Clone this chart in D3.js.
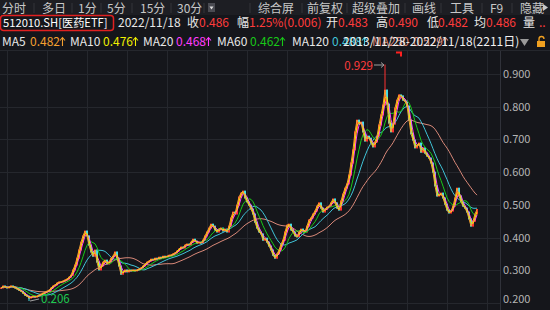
<!DOCTYPE html>
<html>
<head>
<meta charset="utf-8">
<script src="https://cdn.jsdelivr.net/npm/d3@7"></script>
<style>
body { margin: 0; background: #15161b; }
svg { display: block; font-family: "Noto Sans CJK SC", "Noto Sans", sans-serif; }
</style>
</head>
<body>
<svg id="chart" width="550" height="310"></svg>
<script>
// closing prices (about one value per 9 trading days)
var closes = [
  0.246,0.252,0.249,0.246,0.249,0.252,0.249,0.246,0.243,0.239,
  0.236,0.230,0.224,0.221,0.215,0.218,0.221,0.218,0.221,0.224,
  0.227,0.230,0.233,0.236,0.239,0.246,0.252,0.255,0.261,0.264,
  0.264,0.267,0.270,0.273,0.279,0.285,0.301,0.316,0.337,0.362,
  0.386,0.405,0.420,0.405,0.377,0.356,0.343,0.362,0.325,0.301,
  0.313,0.325,0.331,0.319,0.325,0.337,0.343,0.356,0.337,0.313,
  0.288,0.295,0.301,0.295,0.301,0.298,0.301,0.298,0.301,0.304,
  0.307,0.313,0.319,0.325,0.328,0.334,0.331,0.337,0.334,0.340,
  0.337,0.343,0.340,0.343,0.346,0.346,0.350,0.353,0.359,0.365,
  0.371,0.368,0.377,0.380,0.377,0.386,0.395,0.389,0.383,0.386,
  0.383,0.392,0.405,0.417,0.429,0.441,0.435,0.423,0.417,0.426,
  0.429,0.420,0.426,0.417,0.435,0.460,0.478,0.472,0.499,0.524,
  0.536,0.542,0.521,0.509,0.499,0.487,0.472,0.447,0.429,0.417,
  0.411,0.392,0.398,0.386,0.374,0.362,0.346,0.337,0.350,0.362,
  0.380,0.392,0.417,0.438,0.441,0.423,0.417,0.405,0.402,0.417,
  0.426,0.420,0.417,0.435,0.454,0.460,0.472,0.481,0.496,0.506,
  0.490,0.478,0.487,0.493,0.496,0.506,0.518,0.506,0.490,0.484,
  0.512,0.533,0.551,0.564,0.591,0.628,0.668,0.723,0.759,0.747,
  0.753,0.723,0.695,0.710,0.704,0.689,0.677,0.692,0.710,0.744,
  0.775,0.805,0.851,0.808,0.750,0.723,0.747,0.796,0.820,0.836,
  0.833,0.820,0.817,0.802,0.759,0.717,0.698,0.674,0.683,0.689,
  0.661,0.674,0.658,0.649,0.643,0.628,0.600,0.558,0.527,0.530,
  0.536,0.521,0.502,0.484,0.475,0.481,0.496,0.521,0.551,0.527,
  0.509,0.496,0.490,0.478,0.457,0.435,0.450,0.472,0.486
];
var totalDays = 2211;
// extreme wicks (index in closes, price)
var wickIdx = [192, 14];
var wickVal = [0.929, 0.206];

var maNames  = ["MA5", "MA10", "MA20", "MA60", "MA120", "MA250"];
var maDays   = [5, 10, 20, 60, 120, 250];
var maLast   = ["0.482", "0.476", "0.468", "0.462", "0.488", "0.529"];
var maColors = ["#f5a030", "#f0f000", "#ff3cff", "#18c818", "#40c4d8", "#d88878"];

var tabsLeft  = ["分时", "多日", "1分", "5分", "15分", "30分"];
var tabsRight = ["综合屏", "前复权", "超级叠加", "画线", "工具", "F9", "隐藏"];

var code = "512010.SH[医药ETF]";
var date = "2022/11/18";
var quoteNames  = ["收", "幅", "开", "高", "低", "均"];
var quoteValues = ["0.486", "1.25%(0.006)", "0.483", "0.490", "0.482", "0.486"];
var range = "2013/11/28-2022/11/18(2211日)";

var yTicks = [0.2, 0.3, 0.4, 0.5, 0.6, 0.7, 0.8, 0.9];

var W = 550, H = 310, plotR = 500, plotTop = 50;
var svg = d3.select("#chart");
var up = "#ff3232", down = "#48dce4";

svg.append("rect").attr("width", W).attr("height", H).attr("fill", "#15161b");

// top tab bar
svg.append("rect").attr("width", W).attr("height", 15).attr("fill", "#1d1e23");
var tabLX = [2, 42, 78, 107, 140, 177];
var tabRX = [258, 307, 352, 412, 450, 490, 520];
svg.append("g").selectAll("text").data(tabsLeft.concat(tabsRight)).enter().append("text")
  .attr("x", function (d, i) { return i < 6 ? tabLX[i] : tabRX[i - 6]; })
  .attr("y", 12.5)
  .attr("font-size", "12px")
  .attr("fill", "#c8c8c8")
  .text(function (d) { return d; });
var seps = [34, 72, 101, 132, 171, 204, 250, 302, 347, 405, 441, 482, 512];
svg.append("g").selectAll("line").data(seps).enter().append("line")
  .attr("x1", function (d) { return d; }).attr("x2", function (d) { return d; })
  .attr("y1", 3).attr("y2", 13)
  .attr("stroke", "#34353b");
// dropdown box
svg.append("rect").attr("x", 208).attr("y", 3).attr("width", 7).attr("height", 9)
  .attr("fill", "#4a4b52");
svg.append("path").attr("d", "M209.5,6.5 h4 l-2,3 z").attr("fill", "#e0e0e0");
svg.append("path").attr("d", "M543,4 l5,3.5 l-5,3.5 z").attr("fill", "#c8c8c8");

// second row: code + quote
svg.append("rect").attr("x", 0.5).attr("y", 15.5).attr("width", 113).attr("height", 15)
  .attr("rx", 3).attr("fill", "none").attr("stroke", "#e02020").attr("stroke-width", 1.5);
svg.append("text").attr("x", 3).attr("y", 27).attr("font-size", "11.2px").attr("fill", "#ffffff").text(code);
svg.append("text").attr("x", 118).attr("y", 27).attr("font-size", "12px").attr("fill", "#e8e8e8").text(date);
var qNameX = [187, 237, 326, 376, 427, 474];
var qValX  = [199, 249, 338, 388, 438, 486];
qNameX.forEach(function (x, i) {
  svg.append("text").attr("x", x).attr("y", 27).attr("font-size", "12px").attr("fill", "#e8e8e8").text(quoteNames[i]);
  svg.append("text").attr("x", qValX[i]).attr("y", 27).attr("font-size", "12px").attr("fill", "#ff3c3c").text(quoteValues[i]);
});
svg.append("text").attr("x", 523).attr("y", 27).attr("font-size", "12px").attr("fill", "#e8e8e8").text("量");
svg.append("text").attr("x", 539).attr("y", 27).attr("font-size", "12px").attr("fill", "#ff3c3c").text("..");

// MA legend row, value followed by a thin up arrow
var maNameX = [2, 70, 143, 217, 292, 372];
var maValX  = [30, 103, 176, 250, 332, 413];
maNames.forEach(function (n, i) {
  svg.append("text").attr("x", maNameX[i]).attr("y", 46).attr("font-size", "12px")
    .attr("fill", i < 5 ? "#e8e8e8" : maColors[i]).text(n);
  var t = svg.append("text").attr("x", maValX[i]).attr("y", 46).attr("font-size", "12px")
    .attr("fill", maColors[i]).text(maLast[i]);
  var ax = maValX[i] + t.node().getComputedTextLength() + 2.5;
  svg.append("path").attr("d", "M" + ax + ",46 V38 M" + (ax - 2.5) + ",40.5 L" + ax + ",37.5 L" + (ax + 2.5) + ",40.5")
    .attr("fill", "none").attr("stroke", maColors[i]).attr("stroke-width", 1.1);
});
svg.append("text").attr("x", 343).attr("y", 46).attr("font-size", "12px").attr("fill", "#f0f0f0").text(range);
svg.append("path").attr("d", "M520,39 h9 l-4.5,7 z").attr("fill", "#9a9a9a");
svg.append("rect").attr("x", 537).attr("y", 41).attr("width", 8).attr("height", 6).attr("fill", "#f0a020");
svg.append("path").attr("d", "M539,41 v-2 a2.5,2.5 0 0 1 5,0").attr("fill", "none").attr("stroke", "#f0a020").attr("stroke-width", 1.3);

// scales
var x = d3.scaleLinear().domain([0, closes.length - 1]).range([1, 477]);
var y = d3.scaleLinear().domain([0.2, 0.9]).range([303, 74]);

// grid
var grid = svg.append("g");
grid.selectAll(".h").data(yTicks).enter().append("line")
  .attr("x1", 0).attr("x2", plotR)
  .attr("y1", function (d) { return Math.round(y(d)) + 0.5; })
  .attr("y2", function (d) { return Math.round(y(d)) + 0.5; })
  .attr("stroke", "#25272d");
grid.selectAll(".v").data(d3.range(3, 250, 20)).enter().append("line")
  .attr("x1", function (d) { return Math.round(x(d)) + 0.5; })
  .attr("x2", function (d) { return Math.round(x(d)) + 0.5; })
  .attr("y1", plotTop).attr("y2", H)
  .attr("stroke", "#25272d");
svg.append("line").attr("x1", plotR + 0.5).attr("x2", plotR + 0.5).attr("y1", plotTop).attr("y2", H)
  .attr("stroke", "#30323a");
svg.append("line").attr("x1", 0).attr("x2", W).attr("y1", plotTop + 0.5).attr("y2", plotTop + 0.5)
  .attr("stroke", "#25272d");

// y axis labels
svg.append("g").selectAll("text").data(yTicks).enter().append("text")
  .attr("x", 503)
  .attr("y", function (d) { return Math.min(y(d), 299); })
  .attr("dy", "0.36em")
  .attr("font-size", "11px")
  .attr("fill", "#b4b4b4")
  .text(function (d) { return d3.format(".3f")(d); });

// candles
var candles = closes.map(function (c, i) {
  var o = i ? closes[i - 1] : c;
  var hi = Math.max(o, c), lo = Math.min(o, c);
  var k = wickIdx.indexOf(i);
  if (k >= 0) { hi = Math.max(hi, wickVal[k]); lo = Math.min(lo, wickVal[k]); }
  return { i: i, o: o, c: c, h: hi, l: lo };
});
var cg = svg.append("g");
cg.selectAll("line").data(candles).enter().append("line")
  .attr("x1", function (d) { return x(d.i); }).attr("x2", function (d) { return x(d.i); })
  .attr("y1", function (d) { return y(d.h); }).attr("y2", function (d) { return y(d.l); })
  .attr("stroke", function (d) { return d.c >= d.o ? up : down; })
  .attr("stroke-width", 1);
cg.selectAll("rect").data(candles).enter().append("rect")
  .attr("x", function (d) { return x(d.i) - 1; })
  .attr("width", 2)
  .attr("y", function (d) { return y(Math.max(d.o, d.c)) - 0.5; })
  .attr("height", function (d) { return Math.max(1.5, Math.abs(y(d.o) - y(d.c)) + 1); })
  .attr("fill", function (d) { return d.c >= d.o ? up : down; });

// moving averages (window converted from trading days to points)
var daysPerPoint = totalDays / closes.length;
var line = d3.line().x(function (d, i) { return x(i); }).y(function (d) { return y(d); });
maDays.slice().reverse().forEach(function (days, r) {
  var k = maDays.length - 1 - r;
  var w = Math.ceil(days / daysPerPoint);
  var ma = closes.map(function (c, i) {
    return d3.mean(closes.slice(Math.max(0, i - w + 1), i + 1));
  });
  svg.append("path").attr("d", line(ma))
    .attr("fill", "none").attr("stroke", maColors[k]).attr("stroke-width", 1);
});

// high / low markers
var hiI = wickIdx[0], loI = wickIdx[1];
svg.append("text").attr("x", x(hiI) - 12).attr("y", y(wickVal[0]) + 1).attr("dy", "0.35em")
  .attr("text-anchor", "end").attr("font-size", "11.5px").attr("fill", "#ff3c3c")
  .text(d3.format(".3f")(wickVal[0]));
svg.append("line").attr("x1", x(hiI) - 11).attr("x2", x(hiI) - 1)
  .attr("y1", y(wickVal[0]) + 0.5).attr("y2", y(wickVal[0]) + 0.5).attr("stroke", "#a0a0a0");
svg.append("path").attr("d", "M" + (x(hiI) - 4) + "," + (y(wickVal[0]) - 2) + " l3,2.5 l-3,2.5")
  .attr("fill", "none").attr("stroke", "#a0a0a0");
svg.append("text").attr("x", x(loI) + 12).attr("y", Math.min(y(wickVal[1]), 299)).attr("dy", "0.35em")
  .attr("font-size", "11.5px").attr("fill", "#20c850")
  .text(d3.format(".3f")(wickVal[1]));
svg.append("line").attr("x1", x(loI) + 1).attr("x2", x(loI) + 10)
  .attr("y1", y(wickVal[1])).attr("y2", Math.min(y(wickVal[1]), 299)).attr("stroke", "#a0a0a0");

// small red marker at top
svg.append("path").attr("d", "M396,52.5 h5 v4").attr("fill", "none").attr("stroke", "#ff2020").attr("stroke-width", 2);
</script>
</body>
</html>
